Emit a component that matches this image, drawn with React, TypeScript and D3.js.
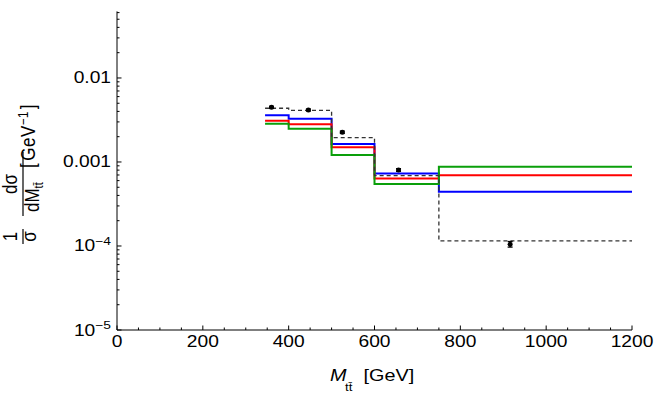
import React from "react";
import * as d3 from "d3";

const binEdges = [345, 400, 500, 600, 750, 1200];
const blueVals = [0.0036, 0.00328, 0.00164, 0.000729, 0.000443];
const redVals = [0.0031, 0.00281, 0.0015, 0.000637, 0.000695];
const greenVals = [0.00286, 0.00249, 0.00121, 0.000547, 0.000879];
const dashedVals = [0.00436, 0.00412, 0.00195, 0.000687, 0.000115];

const dataX = [360, 446, 525, 656, 916];
const dataY = [0.00448, 0.00416, 0.00226, 0.000803, 0.000105];
const dataErr = [0.00012, 0.00011, 0.00007, 0.00003, 0.000008];

const xTickValues = [0, 200, 400, 600, 800, 1000, 1200];
const yTickValues = [1e-5, 1e-4, 1e-3, 1e-2];
const yTickLabels: [string, string][] = [
  ["10", "\u22125"],
  ["10", "\u22124"],
  ["0.001", ""],
  ["0.01", ""],
];

const FONT = "'Liberation Sans', Arial, sans-serif";
const SX = 1.2;

export default function App() {
  const x = d3.scaleLinear().domain([0, 1200]).range([117, 632]);
  const y = d3.scaleLog().domain([1e-5, 0.062]).range([330, 11.4]);

  const stepLine = d3
    .line<[number, number]>()
    .x((d) => x(d[0]))
    .y((d) => y(d[1]))
    .curve(d3.curveStepAfter);

  const pts = (vals: number[]): [number, number][] => {
    const p: [number, number][] = vals.map((v, i) => [binEdges[i], v]);
    p.push([binEdges[binEdges.length - 1], vals[vals.length - 1]]);
    return p;
  };

  const xMinor = d3.range(0, 1201, 50).filter((v) => v % 200 !== 0);
  const yMinor: number[] = [];
  for (let e = -5; e <= -2; e++) {
    for (let k = 2; k <= 9; k++) {
      const v = k * Math.pow(10, e);
      if (v <= 0.062) yMinor.push(v);
    }
  }

  const x0 = x(0);
  const yb = y(1e-5);

  return (
    <svg
      width={655}
      height={394}
      style={{ position: "absolute", left: 0, top: 0, background: "#fff" }}
      fontFamily={FONT}
    >
      <rect width={655} height={394} fill="#fff" />
      {/* axes */}
      <line x1={x0} x2={x0} y1={y(0.062)} y2={yb} stroke="#000" strokeWidth={1} />
      <line x1={x0} x2={x(1200)} y1={yb} y2={yb} stroke="#000" strokeWidth={1} />
      {yTickValues.map((v) => (
        <line key={"ym" + v} x1={x0} x2={x0 + 4.5} y1={y(v)} y2={y(v)} stroke="#000" />
      ))}
      {yMinor.map((v) => (
        <line key={"yn" + v} x1={x0} x2={x0 + 2.5} y1={y(v)} y2={y(v)} stroke="#000" />
      ))}
      {xTickValues.map((v) => (
        <line key={"xm" + v} x1={x(v)} x2={x(v)} y1={yb} y2={yb - 4.5} stroke="#000" />
      ))}
      {xMinor.map((v) => (
        <line key={"xn" + v} x1={x(v)} x2={x(v)} y1={yb} y2={yb - 2.5} stroke="#000" />
      ))}
      {/* tick labels */}
      {yTickValues.map((v, i) => (
        <g key={"yl" + v} transform={`translate(${x0 - 6},${y(v) + 5.5}) scale(${SX},1)`}>
          <text textAnchor="end" fontSize={16} fill="#000">
            {yTickLabels[i][0]}
            {yTickLabels[i][1] ? (
              <tspan dy={-7} fontSize={11.5}>
                {yTickLabels[i][1]}
              </tspan>
            ) : null}
          </text>
        </g>
      ))}
      {xTickValues.map((v) => (
        <g key={"xl" + v} transform={`translate(${x(v)},347) scale(${SX},1)`}>
          <text textAnchor="middle" fontSize={16} fill="#000">
            {v}
          </text>
        </g>
      ))}
      {/* x title */}
      <g transform={`translate(330,381) scale(${SX},1)`}>
        <text fontSize={16.5} fill="#000">
          <tspan fontStyle="italic">M</tspan>
          <tspan x={12.5} dy={10} fontSize={11}>
            t{"t\u0304"}
          </tspan>
          <tspan x={28} dy={-10}>
            [GeV]
          </tspan>
        </text>
      </g>
      {/* y title */}
      <g transform={`translate(23,172) scale(${SX},1) rotate(-90)`} fill="#000">
        <text x={-64.5} y={-5} textAnchor="middle" fontSize={17}>
          1
        </text>
        <line x1={-72} x2={-57} y1={0} y2={0} stroke="#000" strokeWidth={1} />
        <text x={-64.5} y={11} textAnchor="middle" fontSize={17}>
          σ
        </text>
        <text x={-12} y={-5} textAnchor="middle" fontSize={17}>
          dσ
        </text>
        <line x1={-44} x2={20} y1={0} y2={0} stroke="#000" strokeWidth={1} />
        <text x={-40} y={13} fontSize={17}>
          dM
          <tspan dy={4} fontSize={11}>
            t{"t\u0304"}
          </tspan>
        </text>
        <text x={4} y={10} fontSize={17} letterSpacing={0.5}>
          <tspan>[</tspan>
          <tspan dx={2}>GeV</tspan>
          <tspan dy={-6} fontSize={11.5}>
            {"\u22121"}
          </tspan>
          <tspan dy={6} dx={2}>]</tspan>
        </text>
      </g>
      {/* series */}
      <path d={stepLine(pts(blueVals)) || ""} fill="none" stroke="#0000ff" strokeWidth={2} />
      <path d={stepLine(pts(redVals)) || ""} fill="none" stroke="#ff0000" strokeWidth={2} />
      <path d={stepLine(pts(greenVals)) || ""} fill="none" stroke="#0a9f0a" strokeWidth={2} />
      <path
        d={stepLine(pts(dashedVals)) || ""}
        fill="none"
        stroke="#333"
        strokeWidth={1.3}
        strokeDasharray="4,3"
      />
      {/* data */}
      {dataX.map((v, i) => (
        <g key={"d" + i}>
          <line
            x1={x(v)}
            x2={x(v)}
            y1={y(dataY[i] + dataErr[i])}
            y2={y(dataY[i] - dataErr[i])}
            stroke="#000"
            strokeWidth={1.5}
          />
          <line x1={x(v) - 2.5} x2={x(v) + 2.5} y1={y(dataY[i] + dataErr[i])} y2={y(dataY[i] + dataErr[i])} stroke="#000" strokeWidth={1.3} />
          <line x1={x(v) - 2.5} x2={x(v) + 2.5} y1={y(dataY[i] - dataErr[i])} y2={y(dataY[i] - dataErr[i])} stroke="#000" strokeWidth={1.3} />
          <circle cx={x(v)} cy={y(dataY[i])} r={2.5} fill="#000" />
        </g>
      ))}
    </svg>
  );
}
